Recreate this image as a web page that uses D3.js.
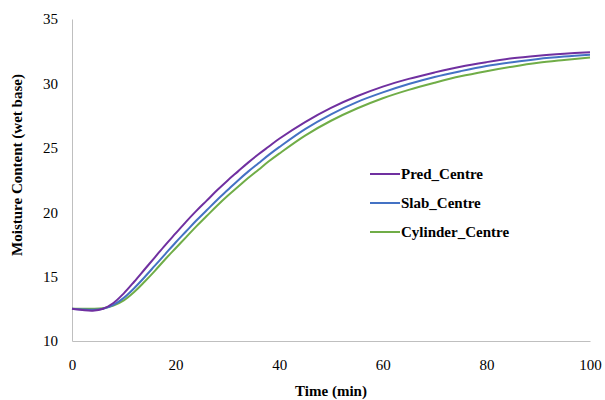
<!DOCTYPE html>
<html>
<head>
<meta charset="utf-8">
<script src="https://cdn.jsdelivr.net/npm/d3@7"></script>
<style>
  body { margin: 0; background: #fff; }
  svg text { font-family: "Liberation Serif", Tinos, "Times New Roman", "DejaVu Serif", serif; fill: #000; }
</style>
</head>
<body>
<div id="chart"></div>
<script>
// time (min)
const times = [0, 2, 4, 6, 8, 10, 12, 14, 16, 18, 20, 22, 24, 26, 28, 30, 32, 34, 36, 38, 40,
               45, 50, 55, 60, 65, 70, 75, 80, 85, 90, 95, 100];

const predCentre = [12.5, 12.4, 12.35, 12.5, 12.95, 13.7, 14.6, 15.55, 16.5, 17.45, 18.35, 19.25, 20.1, 20.9, 21.7, 22.45, 23.15, 23.85, 24.5, 25.1, 25.7,
                    27.0, 28.1, 29.0, 29.75, 30.35, 30.85, 31.3, 31.65, 31.95, 32.15, 32.3, 32.42];
const slabCentre = [12.5, 12.45, 12.42, 12.5, 12.8, 13.35, 14.1, 14.95, 15.85, 16.75, 17.65, 18.5, 19.35, 20.15, 20.95, 21.7, 22.45, 23.15, 23.8, 24.45, 25.05,
                    26.45, 27.6, 28.55, 29.3, 29.95, 30.5, 30.95, 31.35, 31.65, 31.9, 32.08, 32.22];
const cylinderCentre = [12.5, 12.5, 12.5, 12.55, 12.75, 13.15, 13.8, 14.6, 15.45, 16.35, 17.2, 18.05, 18.9, 19.7, 20.5, 21.25, 21.95, 22.65, 23.3, 23.95, 24.55,
                        25.95, 27.1, 28.05, 28.85, 29.5, 30.05, 30.55, 30.95, 31.3, 31.6, 31.82, 32.02];

const seriesNames = ["Pred_Centre", "Slab_Centre", "Cylinder_Centre"];
const seriesColors = ["#7030a0", "#4472c4", "#70ad47"];
const xTicks = [0, 20, 40, 60, 80, 100];
const yTicks = [10, 15, 20, 25, 30, 35];

const width = 605, height = 400;
const margin = {top: 19, right: 15, bottom: 59, left: 72};
const serif = "'Liberation Serif', Tinos, 'Times New Roman', 'DejaVu Serif', serif";

const svg = d3.select("#chart").append("svg")
    .attr("width", width)
    .attr("height", height);

const x = d3.scaleLinear().domain([0, 100]).range([margin.left, width - margin.right]);
const y = d3.scaleLinear().domain([10, 35]).range([height - margin.bottom, margin.top]);

// axes (lines only, no ticks)
svg.append("g")
    .attr("transform", `translate(${margin.left},0)`)
    .attr("font-family", serif)
    .call(d3.axisLeft(y).tickValues(yTicks).tickSize(0).tickPadding(14));
svg.append("g")
    .attr("transform", `translate(0,${height - margin.bottom})`)
    .attr("font-family", serif)
    .call(d3.axisBottom(x).tickValues(xTicks).tickSize(0).tickPadding(18));

svg.selectAll(".domain").attr("stroke", "#bfbfbf").attr("stroke-width", 1);
svg.selectAll(".tick text")
    .attr("font-family", serif)
    .style("font-size", "15px")
    .attr("fill", "#000");

// lines
const allSeries = [predCentre, slabCentre, cylinderCentre];
const line = d3.line()
    .x((d, i) => x(times[i]))
    .y(d => y(d))
    .curve(d3.curveCatmullRom.alpha(0.5));

// draw green first so purple sits on top
for (let k = allSeries.length - 1; k >= 0; k--) {
    svg.append("path")
        .datum(allSeries[k])
        .attr("fill", "none")
        .attr("stroke", seriesColors[k])
        .attr("stroke-width", 2)
        .attr("d", line);
}

// legend
const legend = svg.append("g").attr("transform", "translate(370,174)");
seriesNames.forEach(function (name, i) {
    let g = legend.append("g").attr("transform", `translate(0,${i * 29})`);
    g.append("line")
        .attr("x1", 0).attr("x2", 30)
        .attr("stroke", seriesColors[i])
        .attr("stroke-width", 2);
    g.append("text")
        .attr("x", 31)
        .attr("y", 5)
        .attr("font-family", serif)
        .style("font-size", "15px")
        .style("font-weight", "bold")
        .text(name);
});

// axis titles
svg.append("text")
    .attr("text-anchor", "middle")
    .attr("x", (margin.left + width - margin.right) / 2)
    .attr("y", 396)
    .attr("font-family", serif)
    .style("font-size", "15px")
    .style("font-weight", "bold")
    .text("Time (min)");

svg.append("text")
    .attr("text-anchor", "middle")
    .attr("transform", "translate(22,165) rotate(-90)")
    .attr("font-family", serif)
    .style("font-size", "15px")
    .style("font-weight", "bold")
    .text("Moisture Content (wet base)");
</script>
</body>
</html>
